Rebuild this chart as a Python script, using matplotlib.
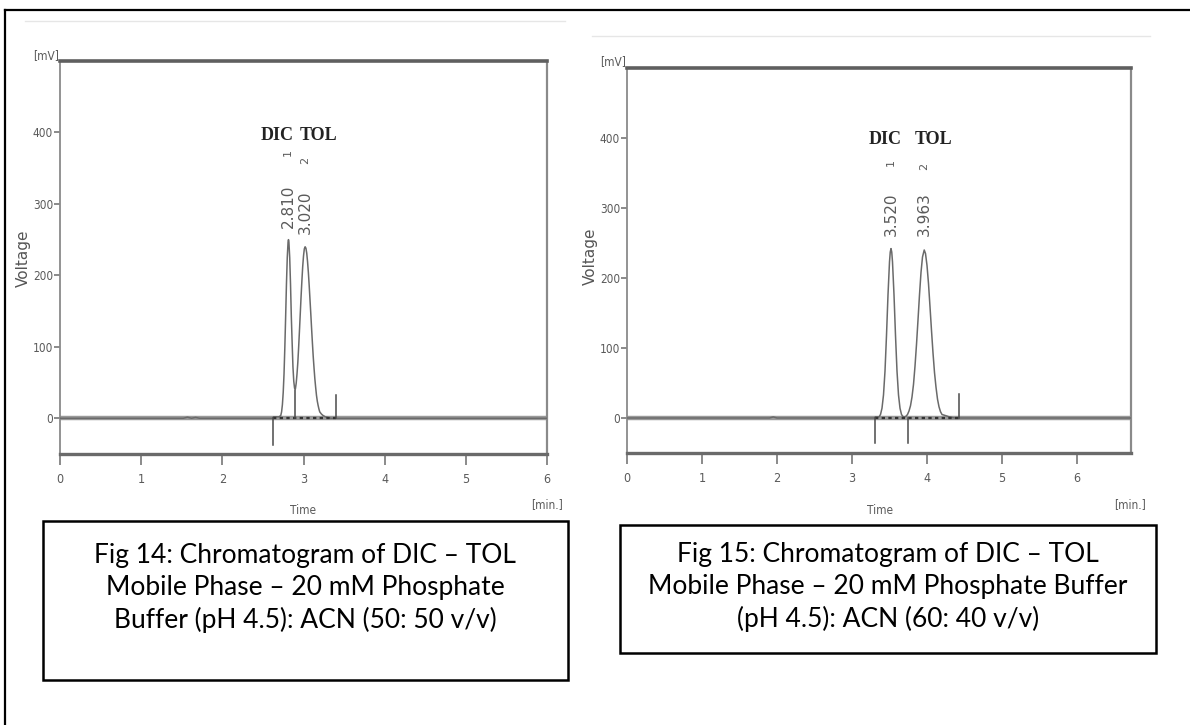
import matplotlib
matplotlib.use("Agg")
import matplotlib.pyplot as plt
from matplotlib.lines import Line2D
from matplotlib.patches import Rectangle
from matplotlib import font_manager as fm

# ---------------- data ----------------
peak_names = ["DIC", "TOL"]
peak_numbers = ["1", "2"]

left_rt_labels = ["2.810", "3.020"]
left_time = [0.00, 1.52, 1.57, 1.62, 1.67, 1.72, 2.62, 2.63, 2.70, 2.72, 2.73, 2.74, 2.75,
             2.76, 2.77, 2.78, 2.79, 2.80, 2.81, 2.815, 2.82, 2.83, 2.84, 2.85, 2.86,
             2.87, 2.88, 2.89, 2.90, 2.91, 2.92, 2.93, 2.94, 2.95, 2.96, 2.97, 2.98,
             2.99, 3.00, 3.01, 3.02, 3.03, 3.04, 3.05, 3.06, 3.07, 3.08, 3.09, 3.10,
             3.11, 3.12, 3.13, 3.14, 3.15, 3.16, 3.17, 3.18, 3.19, 3.20, 3.22, 3.24,
             3.27, 3.30, 3.34, 6.00]
left_signal = [0, 0, 1.5, 0, 1.2, 0, 0, 2, 2, 4, 9, 19, 36,
               62, 99, 142, 188, 225, 247, 250, 247, 225, 188, 142, 106,
               72, 52, 42, 41, 49, 62, 78, 99, 122, 146, 170, 192,
               212, 227, 237, 240, 238, 231, 219, 204, 186, 166, 146, 125,
               105, 86, 70, 55, 43, 32, 24, 18, 13, 9, 6, 4,
               2, 1, 0, 0]
left_events = [2.63, 2.90, 3.40]
left_event_tops = [-37, 40, 33]

right_rt_labels = ["3.520", "3.963"]
right_time = [0.00, 1.90, 1.95, 2.00, 3.30, 3.31, 3.36, 3.38, 3.40, 3.42, 3.44, 3.46,
              3.48, 3.50, 3.51, 3.52, 3.53, 3.54, 3.56, 3.58, 3.60, 3.62, 3.64,
              3.66, 3.68, 3.70, 3.72, 3.74, 3.76, 3.78, 3.80, 3.82, 3.84, 3.86,
              3.88, 3.90, 3.92, 3.94, 3.963, 3.98, 4.00, 4.02, 4.04, 4.06, 4.08,
              4.10, 4.12, 4.14, 4.16, 4.18, 4.20, 4.23, 4.26, 4.30, 4.34, 4.38, 6.72]
right_signal = [0, 0, 1.5, 0, 0, 1.5, 1.5, 5, 14, 33, 67, 118,
                176, 223, 237, 242, 237, 223, 176, 118, 67, 33, 14,
                5, 2, 1.3, 2.5, 5, 10, 17.5, 30, 48, 74, 105,
                140, 176, 208, 230, 240, 235, 218, 192, 159, 125, 93,
                65, 44, 27, 16, 9, 5, 4, 3, 1.5, 0.5, 0, 0]
right_events = [3.31, 3.74, 4.42]
right_event_tops = [-36, -36, 35]

y_ticks = [0, 100, 200, 300, 400]
x_ticks = [0, 1, 2, 3, 4, 5, 6]

captions = [
    "Fig 14: Chromatogram of DIC \u2013 TOL\nMobile Phase \u2013 20 mM Phosphate\nBuffer (pH 4.5): ACN (50: 50 v/v)",
    "Fig 15: Chromatogram of DIC \u2013 TOL\nMobile Phase \u2013 20 mM Phosphate Buffer\n(pH 4.5): ACN (60: 40 v/v)",
]

# ---------------- fonts ----------------
names = {f.name for f in fm.fontManager.ttflist}
NARROW = "Liberation Sans Narrow" if "Liberation Sans Narrow" in names else "DejaVu Sans"
SERIF = "Liberation Serif" if "Liberation Serif" in names else "DejaVu Serif"
CAP = "Lato" if "Lato" in names else "DejaVu Sans"

W, H = 1190, 725
fig = plt.figure(figsize=(W / 100, H / 100), dpi=100)


def fx(px):
    return px / W


def fy(py):
    return 1 - py / H


def axes_px(l, t, r, b):
    return fig.add_axes([fx(l), fy(b), fx(r - l), (b - t) / H])


GRAY = "#6a6a6a"
TXT = "#5a5a5a"
SMALL = dict(family=NARROW, fontstretch="condensed")


def chromatogram(ax, xmax, time, signal, events, tops, rt_pos, rt_labels, name_pos, name_y,
                 num_y, rt_y):
    ax.set_xlim(0, xmax)
    ax.set_ylim(-50, 500)
    ax.plot([0, xmax], [0, 0], color="#9a9a9a", lw=3.2, solid_capstyle="butt", zorder=1)
    ax.plot(time, signal, color=GRAY, lw=1.1, zorder=3)
    ax.plot([events[0], events[-1]], [0, 0], color="#333333", lw=1.6,
            ls=(0, (1.5, 1.5)), zorder=4)
    for ev, tp in zip(events, tops):
        ax.plot([ev, ev], [0, tp], color="#4a4a4a", lw=1.1, zorder=4)
    for i in range(2):
        ax.text(name_pos[i], name_y, peak_names[i], ha="center", va="center",
                family=SERIF, fontweight="bold", fontsize=13, color="#222222")
        ax.text(rt_pos[i], num_y[i], peak_numbers[i], ha="center", va="center",
                rotation=90, family="DejaVu Sans", fontsize=8, color=TXT)
        ax.text(rt_pos[i], rt_y[i], rt_labels[i], ha="center", va="center",
                rotation=90, family="DejaVu Sans", fontsize=11, color=TXT)
    ax.set_yticks(y_ticks)
    ax.set_yticklabels([str(v) for v in y_ticks], fontsize=8.5, color=TXT, **SMALL)
    ax.set_xticks(x_ticks)
    ax.set_xticklabels([str(v) for v in x_ticks], fontsize=9, color=TXT, **SMALL)
    ax.tick_params(axis="y", direction="out", length=4, width=1.2, color="#777777", pad=1)
    ax.tick_params(axis="x", direction="out", length=8, width=1.2, color="#777777", pad=6)
    ax.spines["top"].set_linewidth(2.6)
    ax.spines["top"].set_color("#5f5f5f")
    ax.spines["bottom"].set_linewidth(2.4)
    ax.spines["bottom"].set_color("#6a6a6a")
    ax.spines["left"].set_linewidth(1.3)
    ax.spines["left"].set_color("#8a8a8a")
    ax.spines["right"].set_linewidth(1.6)
    ax.spines["right"].set_color("#8a8a8a")
    ax.set_facecolor("white")


# left chart
axL = axes_px(60, 61, 547, 454)
chromatogram(axL, 6.0, left_time, left_signal, left_events, left_event_tops,
             [2.81, 3.02], left_rt_labels, [2.68, 3.18], 396, [372, 361], [296, 288])

# right chart
axR = axes_px(627, 68, 1131, 453)
chromatogram(axR, 6.72, right_time, right_signal, right_events, right_event_tops,
             [3.52, 3.963], right_rt_labels, [3.44, 4.09], 398, [365, 360], [291, 291])

# axis unit labels and titles (figure coords)
for (mvx, mvy, vx, vy, tx, ty, mx, my) in [
    (46, 56, 23, 258, 303, 510, 547, 505),
    (613, 62, 590, 256, 880, 510, 1130, 505),
]:
    fig.text(fx(mvx), fy(mvy), "[mV]", ha="center", va="center", fontsize=8.5,
             color=TXT, **SMALL)
    fig.text(fx(vx), fy(vy), "Voltage", ha="center", va="center", rotation=90,
             family="DejaVu Sans", fontsize=11, color="#555555")
    fig.text(fx(tx), fy(ty), "Time", ha="center", va="center", fontsize=8.5,
             color=TXT, **SMALL)
    fig.text(fx(mx), fy(my), "[min.]", ha="center", va="center", fontsize=8.5,
             color=TXT, **SMALL)

# faint screenshot edges
fig.add_artist(Line2D([fx(25), fx(565)], [fy(21), fy(21)], color="#e6e6e6", lw=1))
fig.add_artist(Line2D([fx(592), fx(1150)], [fy(36), fy(36)], color="#e6e6e6", lw=1))

# outer page border
fig.add_artist(Line2D([fx(5), fx(1190)], [fy(10), fy(10)], color="black", lw=1.6))
fig.add_artist(Line2D([fx(5), fx(5)], [fy(10), fy(725)], color="black", lw=1.6))

# caption boxes
for (l, t, r, b, cx, cy, txt) in [
    (43, 521, 568, 680, 305, 588, captions[0]),
    (620, 525, 1156, 653, 888, 587, captions[1]),
]:
    fig.add_artist(Rectangle((fx(l), fy(b)), fx(r - l), (b - t) / H, fill=False,
                             edgecolor="black", lw=1.8))
    fig.text(fx(cx), fy(cy), txt, ha="center", va="center", family=CAP, fontsize=19,
             color="black", linespacing=1.33)

fig.savefig("out.png", dpi=100, facecolor="white")
